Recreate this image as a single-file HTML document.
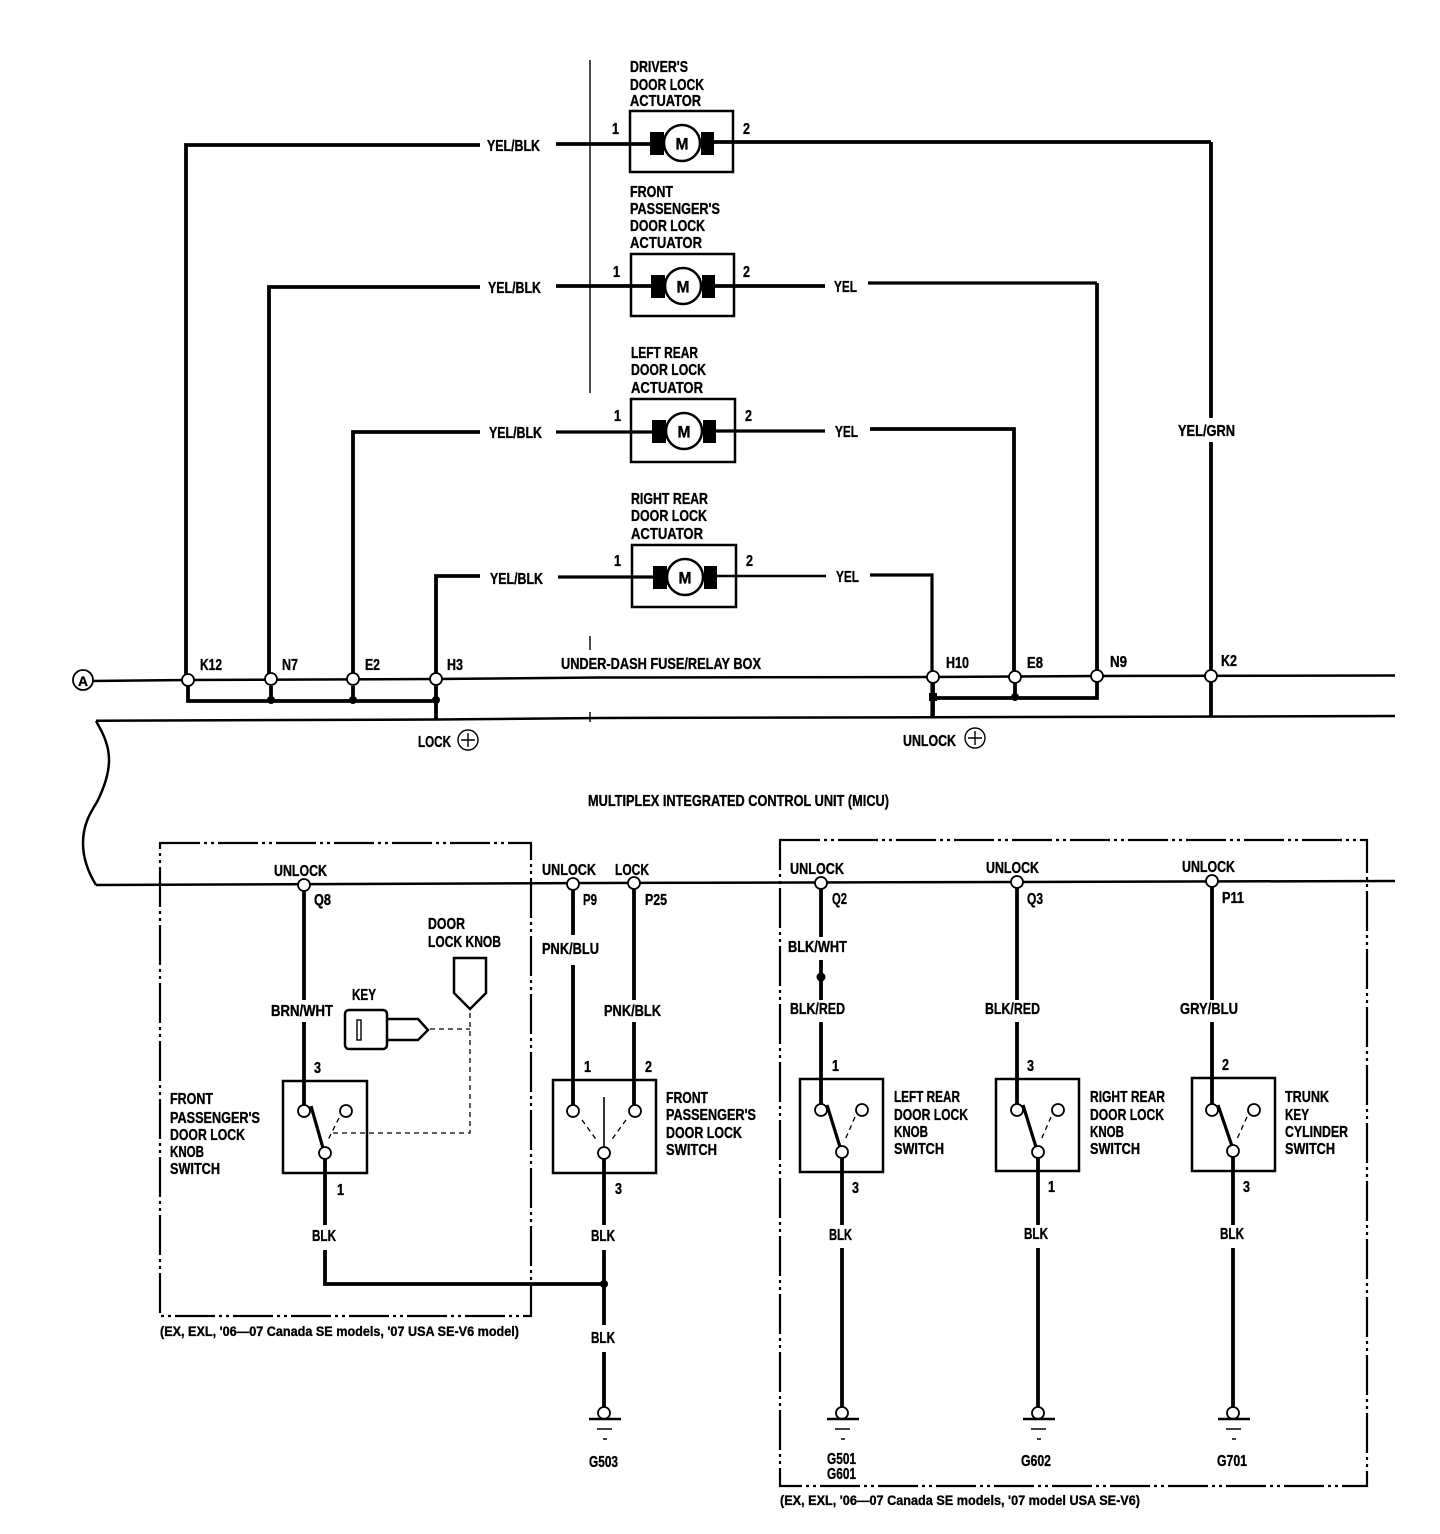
<!DOCTYPE html>
<html><head><meta charset="utf-8"><style>
html,body{margin:0;padding:0;background:#fff}
svg{display:block}
text{font-family:"Liberation Sans",sans-serif;font-weight:bold;font-size:16px;fill:#000;stroke:#000;stroke-width:.35}
.t{fill:none;stroke:#000;stroke-width:3.8}
.w{fill:none;stroke:#000;stroke-width:3.2}
.m{fill:none;stroke:#000;stroke-width:2.5}
.g{fill:none;stroke:#000;stroke-width:2.5}
.h{fill:none;stroke:#000;stroke-width:1.6}
.n{fill:none;stroke:#000;stroke-width:1.4}
.d{fill:none;stroke:#000;stroke-width:1.3;stroke-dasharray:5 4}
.b{fill:none;stroke:#000;stroke-width:2.2;stroke-dasharray:40 4 3 4 3 4}
.c{fill:#fff;stroke:#000;stroke-width:1.8}
.k{fill:#fff;stroke:#000;stroke-width:2.5}
.mm{font-size:17px}
.s{font-size:14px}
</style></head><body>
<svg width="1440" height="1534" viewBox="0 0 1440 1534" xmlns="http://www.w3.org/2000/svg">
<!-- separator -->
<path class="n" d="M590 60V393M590 636V650M590 712V722"/>

<!-- actuators -->
<rect class="m" x="630" y="111" width="103" height="61"/>
<path class="t" d="M556 144H650M714 142H1211"/>
<rect x="650" y="132" width="14" height="23"/><rect x="701" y="132" width="13" height="23"/>
<circle class="k" cx="682" cy="143" r="18"/>
<text class="mm" x="675.500" y="149.500" textLength="13" lengthAdjust="spacingAndGlyphs">M</text>
<rect class="m" x="631" y="254" width="103" height="62"/>
<path class="t" d="M556 286H651M715 286H825"/>
<rect x="651" y="275" width="14" height="23"/><rect x="702" y="275" width="13" height="23"/>
<circle class="k" cx="683" cy="286" r="18"/>
<text class="mm" x="676.500" y="292.500" textLength="13" lengthAdjust="spacingAndGlyphs">M</text>
<rect class="m" x="631" y="399" width="104" height="63"/>
<path class="w" d="M556 432H652M716 431H825"/>
<rect x="652" y="420" width="14" height="23"/><rect x="703" y="420" width="13" height="23"/>
<circle class="k" cx="684" cy="431" r="18"/>
<text class="mm" x="677.500" y="437.500" textLength="13" lengthAdjust="spacingAndGlyphs">M</text>
<rect class="m" x="632" y="545" width="104" height="62"/>
<path class="w" d="M558 577H653"/><path class="m" d="M717 576H826"/>
<rect x="653" y="566" width="14" height="23"/><rect x="704" y="566" width="13" height="23"/>
<circle class="k" cx="685" cy="577" r="18"/>
<text class="mm" x="678.500" y="583.500" textLength="13" lengthAdjust="spacingAndGlyphs">M</text>

<!-- upper wires -->
<path class="t" d="M480 145H186V680"/>
<path class="t" d="M1211 142V418M1211 442V717"/>
<path class="t" d="M480 287H269V679"/>
<path class="w" d="M868 283H1097"/><path class="t" d="M1097 283V676"/>
<path class="t" d="M480 432H353V679"/>
<path class="t" d="M870 429H1014V677"/>
<path class="t" d="M480 576H436V720"/>
<path class="w" d="M870 575H932V717"/>

<!-- buses -->
<path class="m" d="M90 681L188 680L436 679L600 677.500L933 677L1097 676L1395 675.500"/>
<path class="m" d="M96 720.700L436 719.500L600 718L1240 716.500L1395 716"/>
<path class="m" d="M96 885L600 883L1395 881"/>
<path class="m" d="M96 721C103 733 109 745 109 760C109 775 103 790 97 802C90 813 83 825 83 843C83 858 88 872 96 885"/>
<path class="t" d="M188 686V701H436M271 686V700M353 686V700M933 683V717M933 698H1097V682M1015 683V697"/>
<circle cx="271" cy="700" r="4"/><circle cx="353" cy="700" r="4"/><circle cx="436" cy="700" r="4"/>
<rect x="929" y="693" width="8" height="8"/><circle cx="1015" cy="697" r="4"/>
<circle class="c" cx="188" cy="680" r="6"/><circle class="c" cx="271" cy="679" r="6"/><circle class="c" cx="353" cy="679" r="6"/><circle class="c" cx="436" cy="679" r="6"/>
<circle class="c" cx="933" cy="677" r="6"/><circle class="c" cx="1015" cy="677" r="6"/><circle class="c" cx="1097" cy="676" r="6"/><circle class="c" cx="1211" cy="676" r="6"/>
<circle class="c" cx="83" cy="680" r="10"/>
<text x="78" y="686" textLength="10" lengthAdjust="spacingAndGlyphs" class="s">A</text>
<circle class="n" cx="468" cy="740" r="10"/><path class="n" d="M461 740H475M468 733V747"/>
<circle class="n" cx="975" cy="738" r="10"/><path class="n" d="M968 738H982M975 731V745"/>

<!-- dash boxes -->
<rect class="b" x="160" y="843" width="371" height="473"/>
<rect class="b" x="780" y="840" width="587" height="646"/>

<!-- switch 1 -->
<path class="t" d="M304 891V1000M304 1022V1105"/>
<rect class="m" x="283" y="1081" width="84" height="92"/>
<path class="w" d="M311 1106L323 1148"/>
<path class="d" d="M339 1118L328 1140M333 1133H470V1010M430 1029H470"/>
<circle class="c" cx="304" cy="885" r="6"/>
<circle class="c" cx="304" cy="1111" r="6"/><circle class="c" cx="346" cy="1111" r="6"/><circle class="c" cx="325" cy="1153" r="6"/>
<path class="m" d="M454 958H486V993L470 1009L454 993Z"/>
<rect class="m" x="345" y="1010" width="42" height="39" rx="4"/>
<rect class="n" x="357" y="1020" width="4" height="20"/>
<path class="m" d="M387 1019H418L428 1030L418 1040H387"/>
<path class="t" d="M325 1159V1225M325 1250V1284H604"/>
<circle cx="604" cy="1284" r="4"/>

<!-- switch 2 -->
<path class="t" d="M573 890V935M573 965V1105M634 889V1000M634 1022V1105"/>
<rect class="m" x="553" y="1080" width="103" height="93"/>
<path class="h" d="M604 1097V1147"/>
<path class="d" d="M582 1120L598 1142M626 1120L610 1142"/>
<circle class="c" cx="573" cy="884" r="6"/><circle class="c" cx="634" cy="883" r="6"/>
<circle class="c" cx="573" cy="1111" r="6"/><circle class="c" cx="635" cy="1111" r="6"/><circle class="c" cx="604" cy="1153" r="6"/>
<path class="t" d="M604 1159V1225M604 1250V1325M604 1352V1408"/>
<circle class="c" cx="604" cy="1413" r="6"/>
<path class="g" d="M589 1419H621"/><path class="h" d="M597 1429H612M603 1439H607"/>

<!-- switch 3 -->
<path class="t" d="M821 889V937M821 960V1000M821 1022V1105"/>
<circle cx="821" cy="977" r="4.500"/>
<rect class="m" x="800" y="1079" width="83" height="93"/>
<path class="w" d="M827 1105L840 1147"/><path class="d" d="M855 1117L845 1140"/>
<circle class="c" cx="821" cy="883" r="6"/>
<circle class="c" cx="821" cy="1110" r="6"/><circle class="c" cx="862" cy="1110" r="6"/><circle class="c" cx="842" cy="1152" r="6"/>
<path class="t" d="M842 1158V1225M842 1248V1408"/>
<circle class="c" cx="842" cy="1413" r="6"/>
<path class="g" d="M827 1419H859"/><path class="h" d="M835 1429H850M841 1439H845"/>

<!-- switch 4 -->
<path class="t" d="M1017 888V1000M1017 1022V1105"/>
<rect class="m" x="996" y="1079" width="83" height="92"/>
<path class="w" d="M1023 1105L1036 1147"/><path class="d" d="M1051 1117L1041 1140"/>
<circle class="c" cx="1017" cy="882" r="6"/>
<circle class="c" cx="1017" cy="1110" r="6"/><circle class="c" cx="1058" cy="1110" r="6"/><circle class="c" cx="1038" cy="1152" r="6"/>
<path class="t" d="M1038 1158V1225M1038 1248V1408"/>
<circle class="c" cx="1038" cy="1413" r="6"/>
<path class="g" d="M1023 1419H1055"/><path class="h" d="M1031 1429H1046M1037 1439H1041"/>

<!-- switch 5 -->
<path class="t" d="M1212 887V1000M1212 1022V1105"/>
<rect class="m" x="1192" y="1078" width="83" height="93"/>
<path class="w" d="M1218 1105L1232 1146"/><path class="d" d="M1247 1117L1237 1139"/>
<circle class="c" cx="1212" cy="881" r="6"/>
<circle class="c" cx="1212" cy="1110" r="6"/><circle class="c" cx="1254" cy="1110" r="6"/><circle class="c" cx="1233" cy="1151" r="6"/>
<path class="t" d="M1233 1157V1225M1233 1248V1408"/>
<circle class="c" cx="1233" cy="1413" r="6"/>
<path class="g" d="M1218 1419H1250"/><path class="h" d="M1226 1429H1241M1232 1439H1236"/>

<!-- labels upper -->
<text x="630" y="72" textLength="58" lengthAdjust="spacingAndGlyphs">DRIVER'S</text>
<text x="630" y="90" textLength="74" lengthAdjust="spacingAndGlyphs">DOOR LOCK</text>
<text x="630" y="106" textLength="71" lengthAdjust="spacingAndGlyphs">ACTUATOR</text>
<text x="630" y="197" textLength="43" lengthAdjust="spacingAndGlyphs">FRONT</text>
<text x="630" y="214" textLength="90" lengthAdjust="spacingAndGlyphs">PASSENGER'S</text>
<text x="630" y="231" textLength="75" lengthAdjust="spacingAndGlyphs">DOOR LOCK</text>
<text x="630" y="248" textLength="72" lengthAdjust="spacingAndGlyphs">ACTUATOR</text>
<text x="631" y="358" textLength="67" lengthAdjust="spacingAndGlyphs">LEFT REAR</text>
<text x="631" y="375" textLength="75" lengthAdjust="spacingAndGlyphs">DOOR LOCK</text>
<text x="631" y="393" textLength="72" lengthAdjust="spacingAndGlyphs">ACTUATOR</text>
<text x="631" y="504" textLength="77" lengthAdjust="spacingAndGlyphs">RIGHT REAR</text>
<text x="631" y="521" textLength="76" lengthAdjust="spacingAndGlyphs">DOOR LOCK</text>
<text x="631" y="539" textLength="72" lengthAdjust="spacingAndGlyphs">ACTUATOR</text>
<text x="612" y="134" textLength="7" lengthAdjust="spacingAndGlyphs">1</text><text x="743" y="134" textLength="7" lengthAdjust="spacingAndGlyphs">2</text>
<text x="613" y="277" textLength="7" lengthAdjust="spacingAndGlyphs">1</text><text x="743" y="277" textLength="7" lengthAdjust="spacingAndGlyphs">2</text>
<text x="614" y="421" textLength="7" lengthAdjust="spacingAndGlyphs">1</text><text x="745" y="421" textLength="7" lengthAdjust="spacingAndGlyphs">2</text>
<text x="614" y="566" textLength="7" lengthAdjust="spacingAndGlyphs">1</text><text x="746" y="566" textLength="7" lengthAdjust="spacingAndGlyphs">2</text>
<text x="487" y="151" textLength="53" lengthAdjust="spacingAndGlyphs">YEL/BLK</text>
<text x="488" y="293" textLength="53" lengthAdjust="spacingAndGlyphs">YEL/BLK</text>
<text x="489" y="438" textLength="53" lengthAdjust="spacingAndGlyphs">YEL/BLK</text>
<text x="490" y="584" textLength="53" lengthAdjust="spacingAndGlyphs">YEL/BLK</text>
<text x="834" y="292" textLength="23" lengthAdjust="spacingAndGlyphs">YEL</text>
<text x="835" y="437" textLength="23" lengthAdjust="spacingAndGlyphs">YEL</text>
<text x="836" y="582" textLength="23" lengthAdjust="spacingAndGlyphs">YEL</text>
<text x="1178" y="436" textLength="57" lengthAdjust="spacingAndGlyphs">YEL/GRN</text>
<text x="200" y="670" textLength="22" lengthAdjust="spacingAndGlyphs">K12</text>
<text x="282" y="670" textLength="16" lengthAdjust="spacingAndGlyphs">N7</text>
<text x="365" y="670" textLength="15" lengthAdjust="spacingAndGlyphs">E2</text>
<text x="447" y="670" textLength="16" lengthAdjust="spacingAndGlyphs">H3</text>
<text x="561" y="669" textLength="200" lengthAdjust="spacingAndGlyphs">UNDER-DASH FUSE/RELAY BOX</text>
<text x="946" y="668" textLength="23" lengthAdjust="spacingAndGlyphs">H10</text>
<text x="1027" y="668" textLength="16" lengthAdjust="spacingAndGlyphs">E8</text>
<text x="1110" y="667" textLength="17" lengthAdjust="spacingAndGlyphs">N9</text>
<text x="1221" y="666" textLength="16" lengthAdjust="spacingAndGlyphs">K2</text>
<text x="418" y="747" textLength="33" lengthAdjust="spacingAndGlyphs">LOCK</text>
<text x="903" y="746" textLength="53" lengthAdjust="spacingAndGlyphs">UNLOCK</text>
<text x="588" y="806" textLength="301" lengthAdjust="spacingAndGlyphs">MULTIPLEX INTEGRATED CONTROL UNIT (MICU)</text>

<!-- labels lower -->
<text x="274" y="876" textLength="53" lengthAdjust="spacingAndGlyphs">UNLOCK</text>
<text x="314" y="905" textLength="17" lengthAdjust="spacingAndGlyphs">Q8</text>
<text x="428" y="929" textLength="37" lengthAdjust="spacingAndGlyphs">DOOR</text>
<text x="428" y="947" textLength="73" lengthAdjust="spacingAndGlyphs">LOCK KNOB</text>
<text x="352" y="1000" textLength="24" lengthAdjust="spacingAndGlyphs">KEY</text>
<text x="271" y="1016" textLength="62" lengthAdjust="spacingAndGlyphs">BRN/WHT</text>
<text x="314" y="1073" textLength="7" lengthAdjust="spacingAndGlyphs">3</text>
<text x="337" y="1195" textLength="7" lengthAdjust="spacingAndGlyphs">1</text>
<text x="312" y="1241" textLength="24" lengthAdjust="spacingAndGlyphs">BLK</text>
<text x="170" y="1104" textLength="43" lengthAdjust="spacingAndGlyphs">FRONT</text>
<text x="170" y="1123" textLength="90" lengthAdjust="spacingAndGlyphs">PASSENGER'S</text>
<text x="170" y="1140" textLength="75" lengthAdjust="spacingAndGlyphs">DOOR LOCK</text>
<text x="170" y="1157" textLength="34" lengthAdjust="spacingAndGlyphs">KNOB</text>
<text x="170" y="1174" textLength="50" lengthAdjust="spacingAndGlyphs">SWITCH</text>

<text x="542" y="875" textLength="54" lengthAdjust="spacingAndGlyphs">UNLOCK</text>
<text x="615" y="875" textLength="34" lengthAdjust="spacingAndGlyphs">LOCK</text>
<text x="583" y="905" textLength="14" lengthAdjust="spacingAndGlyphs">P9</text>
<text x="645" y="905" textLength="22" lengthAdjust="spacingAndGlyphs">P25</text>
<text x="542" y="954" textLength="57" lengthAdjust="spacingAndGlyphs">PNK/BLU</text>
<text x="604" y="1016" textLength="57" lengthAdjust="spacingAndGlyphs">PNK/BLK</text>
<text x="584" y="1072" textLength="7" lengthAdjust="spacingAndGlyphs">1</text><text x="645" y="1072" textLength="7" lengthAdjust="spacingAndGlyphs">2</text>
<text x="615" y="1194" textLength="7" lengthAdjust="spacingAndGlyphs">3</text>
<text x="591" y="1241" textLength="24" lengthAdjust="spacingAndGlyphs">BLK</text>
<text x="591" y="1343" textLength="24" lengthAdjust="spacingAndGlyphs">BLK</text>
<text x="589" y="1467" textLength="29" lengthAdjust="spacingAndGlyphs">G503</text>
<text x="666" y="1103" textLength="42" lengthAdjust="spacingAndGlyphs">FRONT</text>
<text x="666" y="1120" textLength="90" lengthAdjust="spacingAndGlyphs">PASSENGER'S</text>
<text x="666" y="1138" textLength="76" lengthAdjust="spacingAndGlyphs">DOOR LOCK</text>
<text x="666" y="1155" textLength="51" lengthAdjust="spacingAndGlyphs">SWITCH</text>

<text x="790" y="874" textLength="54" lengthAdjust="spacingAndGlyphs">UNLOCK</text>
<text x="832" y="904" textLength="15" lengthAdjust="spacingAndGlyphs">Q2</text>
<text x="788" y="952" textLength="59" lengthAdjust="spacingAndGlyphs">BLK/WHT</text>
<text x="790" y="1014" textLength="55" lengthAdjust="spacingAndGlyphs">BLK/RED</text>
<text x="832" y="1071" textLength="7" lengthAdjust="spacingAndGlyphs">1</text>
<text x="852" y="1193" textLength="7" lengthAdjust="spacingAndGlyphs">3</text>
<text x="829" y="1240" textLength="23" lengthAdjust="spacingAndGlyphs">BLK</text>
<text x="827" y="1464" textLength="29" lengthAdjust="spacingAndGlyphs">G501</text>
<text x="827" y="1479" textLength="29" lengthAdjust="spacingAndGlyphs">G601</text>
<text x="894" y="1102" textLength="66" lengthAdjust="spacingAndGlyphs">LEFT REAR</text>
<text x="894" y="1120" textLength="74" lengthAdjust="spacingAndGlyphs">DOOR LOCK</text>
<text x="894" y="1137" textLength="34" lengthAdjust="spacingAndGlyphs">KNOB</text>
<text x="894" y="1154" textLength="50" lengthAdjust="spacingAndGlyphs">SWITCH</text>

<text x="986" y="873" textLength="53" lengthAdjust="spacingAndGlyphs">UNLOCK</text>
<text x="1027" y="904" textLength="16" lengthAdjust="spacingAndGlyphs">Q3</text>
<text x="985" y="1014" textLength="55" lengthAdjust="spacingAndGlyphs">BLK/RED</text>
<text x="1027" y="1071" textLength="7" lengthAdjust="spacingAndGlyphs">3</text>
<text x="1048" y="1192" textLength="7" lengthAdjust="spacingAndGlyphs">1</text>
<text x="1024" y="1239" textLength="24" lengthAdjust="spacingAndGlyphs">BLK</text>
<text x="1021" y="1466" textLength="30" lengthAdjust="spacingAndGlyphs">G602</text>
<text x="1090" y="1102" textLength="75" lengthAdjust="spacingAndGlyphs">RIGHT REAR</text>
<text x="1090" y="1120" textLength="74" lengthAdjust="spacingAndGlyphs">DOOR LOCK</text>
<text x="1090" y="1137" textLength="34" lengthAdjust="spacingAndGlyphs">KNOB</text>
<text x="1090" y="1154" textLength="50" lengthAdjust="spacingAndGlyphs">SWITCH</text>

<text x="1182" y="872" textLength="53" lengthAdjust="spacingAndGlyphs">UNLOCK</text>
<text x="1222" y="903" textLength="22" lengthAdjust="spacingAndGlyphs">P11</text>
<text x="1180" y="1014" textLength="58" lengthAdjust="spacingAndGlyphs">GRY/BLU</text>
<text x="1222" y="1070" textLength="7" lengthAdjust="spacingAndGlyphs">2</text>
<text x="1243" y="1192" textLength="7" lengthAdjust="spacingAndGlyphs">3</text>
<text x="1220" y="1239" textLength="24" lengthAdjust="spacingAndGlyphs">BLK</text>
<text x="1217" y="1466" textLength="30" lengthAdjust="spacingAndGlyphs">G701</text>
<text x="1285" y="1102" textLength="44" lengthAdjust="spacingAndGlyphs">TRUNK</text>
<text x="1285" y="1120" textLength="24" lengthAdjust="spacingAndGlyphs">KEY</text>
<text x="1285" y="1137" textLength="63" lengthAdjust="spacingAndGlyphs">CYLINDER</text>
<text x="1285" y="1154" textLength="50" lengthAdjust="spacingAndGlyphs">SWITCH</text>

<text class="s" x="160" y="1336" textLength="359" lengthAdjust="spacingAndGlyphs">(EX, EXL, '06—07 Canada SE models, '07 USA SE-V6 model)</text>
<text class="s" x="780" y="1505" textLength="360" lengthAdjust="spacingAndGlyphs">(EX, EXL, '06—07 Canada SE models, '07 model USA SE-V6)</text>
</svg>
</body></html>
